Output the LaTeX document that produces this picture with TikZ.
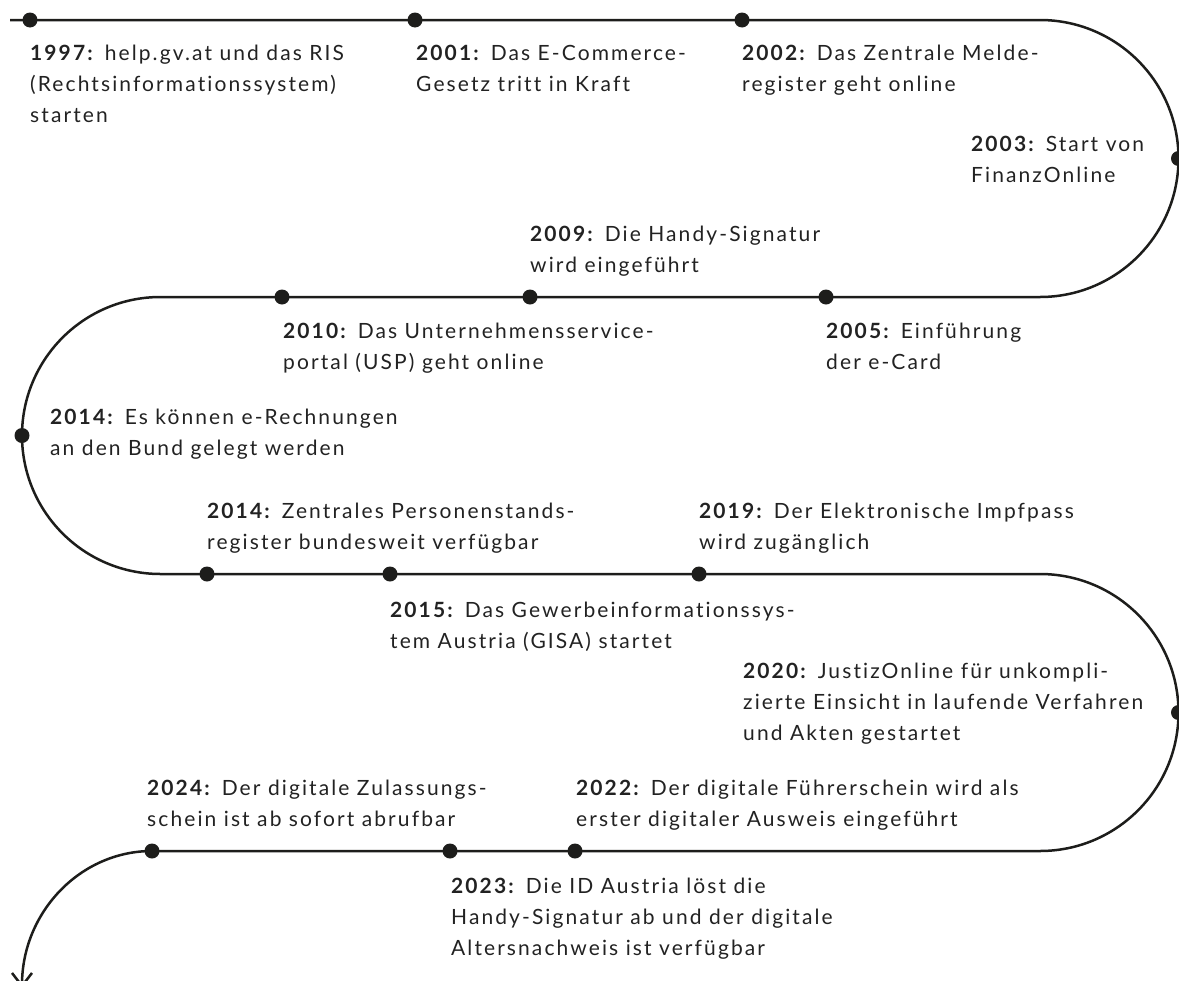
\documentclass[tikz,border=0pt]{standalone}
\usepackage{fontspec}
\setmainfont{Lato}[LetterSpace=10, Ligatures={NoCommon,NoRare}]
\usetikzlibrary{arrows.meta}
\definecolor{ink}{HTML}{1D1D1B}
\definecolor{txt}{HTML}{222222}
\tikzset{
  timeline/.style={draw=ink, line width=2.5bp},
  evdot/.style={circle, fill=ink, inner sep=0pt, minimum size=15bp},
  evtext/.style={anchor=base west, inner sep=0pt, align=left, text=txt,
    font=\fontsize{21bp}{31bp}\selectfont},
}
\begin{document}
\begin{tikzpicture}[x=1bp,y=-1bp]
\useasboundingbox (0,0) rectangle (1179,981);
\clip (0,0) rectangle (1179,981);
% corner coordinates
\coordinate (s0) at (10,20);
\coordinate (r1) at (1040,20);
\coordinate (r2) at (160.5,297);
\coordinate (r3) at (1040,574);
\coordinate (r4) at (152,851);
\draw[timeline, -{Straight Barb[length=13bp,width=20bp]}]
  (s0) -- (r1) arc[start angle=-90, end angle=90, radius=138.5]
  -- (r2) arc[start angle=-90, end angle=-270, radius=138.5]
  -- (r3) arc[start angle=-90, end angle=90, radius=138.5]
  -- (r4) arc[start angle=-90, end angle=-180, x radius=130, y radius=137];
% dots
\node[evdot] (d1997) at (30,20) {};
\node[evdot] (d2001) at (415,20) {};
\node[evdot] (d2002) at (742,20) {};
\node[evdot] (d2003) at (1178.5,158.5) {};
\node[evdot] (d2005) at (826,297) {};
\node[evdot] (d2009) at (530,297) {};
\node[evdot] (d2010) at (282,297) {};
\node[evdot] (d2014a) at (22,435.5) {};
\node[evdot] (d2014b) at (207,574) {};
\node[evdot] (d2015) at (390,574) {};
\node[evdot] (d2019) at (699,574) {};
\node[evdot] (d2020) at (1178.5,712.5) {};
\node[evdot] (d2022) at (575,851) {};
\node[evdot] (d2023) at (450,851) {};
\node[evdot] (d2024) at (152,851) {};
% texts (anchor = baseline of last line)
\node[evtext] (t1997) at (30,122) {\textbf{1997:} help.gv.at und das RIS\\(Rechtsinformationssystem)\\starten};
\node[evtext] (t2001) at (416,91) {\textbf{2001:} Das E-Commerce-\\Gesetz tritt in Kraft};
\node[evtext] (t2002) at (742,91) {\textbf{2002:} Das Zentrale Melde-\\register geht online};
\node[evtext] (t2003) at (971,182) {\textbf{2003:} Start von\\FinanzOnline};
\node[evtext] (t2009) at (530,272) {\textbf{2009:} Die Handy-Signatur\\wird eingeführt};
\node[evtext] (t2010) at (283,369) {\textbf{2010:} Das Unternehmensservice-\\portal (USP) geht online};
\node[evtext] (t2005) at (826,369) {\textbf{2005:} Einführung\\der e-Card};
\node[evtext] (t2014a) at (50,455) {\textbf{2014:} Es können e-Rechnungen\\an den Bund gelegt werden};
\node[evtext] (t2014b) at (207,549) {\textbf{2014:} Zentrales Personenstands-\\register bundesweit verfügbar};
\node[evtext] (t2019) at (699,549) {\textbf{2019:} Der Elektronische Impfpass\\wird zugänglich};
\node[evtext] (t2015) at (390,648) {\textbf{2015:} Das Gewerbeinformationssys-\\tem Austria (GISA) startet};
\node[evtext] (t2020) at (743,740) {\textbf{2020:} JustizOnline für unkompli-\\zierte Einsicht in laufende Verfahren\\und Akten gestartet};
\node[evtext] (t2024) at (147,826) {\textbf{2024:} Der digitale Zulassungs-\\schein ist ab sofort abrufbar};
\node[evtext] (t2022) at (576,826) {\textbf{2022:} Der digitale Führerschein wird als\\erster digitaler Ausweis eingeführt};
\node[evtext] (t2023) at (451,955) {\textbf{2023:} Die ID Austria löst die\\Handy-Signatur ab und der digitale\\Altersnachweis ist verfügbar};
\end{tikzpicture}
\end{document}
